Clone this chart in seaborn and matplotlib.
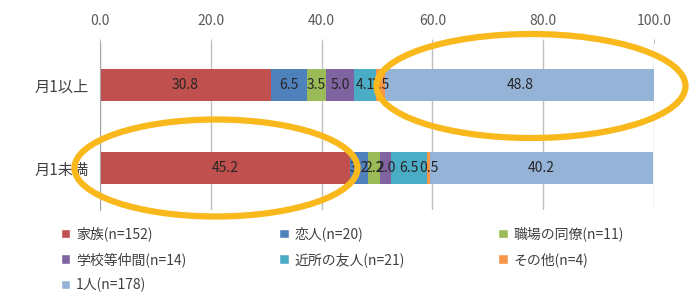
import numpy as np
import pandas as pd
import seaborn as sns
import matplotlib.pyplot as plt
from matplotlib.patches import Ellipse, Patch

# Categories (rows) and series (stack segments), values in percent
rows = ["月1以上", "月1未満"]
series = ["家族(n=152)", "恋人(n=20)", "職場の同僚(n=11)", "学校等仲間(n=14)",
          "近所の友人(n=21)", "その他(n=4)", "1人(n=178)"]
vals_over = [30.8, 6.5, 3.5, 5.0, 4.1, 1.5, 48.8]
vals_under = [45.2, 3.2, 2.2, 2.0, 6.5, 0.5, 40.2]
colors = ["#C0504D", "#4F81BD", "#9BBB59", "#8064A2", "#4BACC6", "#F79646", "#95B3D7"]
xticks = [0, 20, 40, 60, 80, 100]

sns.set_style("white")
plt.rcParams['font.family'] = ['Noto Sans CJK JP', 'DejaVu Sans']

fig = plt.figure(figsize=(6.91, 2.93), dpi=100)
ax = fig.add_axes([100 / 691, 1 - 210 / 293, 554 / 691, 167 / 293])

# Build table of cumulative values, one column per series
vals = np.array([vals_over, vals_under])
cum = np.cumsum(vals, axis=1)
df = pd.DataFrame(cum, columns=series)
df["row"] = rows

# Stack by drawing the cumulative bars from the longest one down
for i in range(len(series) - 1, -1, -1):
    sns.barplot(data=df, x=series[i], y="row", order=rows, orient="h",
                color=colors[i], saturation=1, width=0.38, linewidth=0, ax=ax)

# Segment labels in the middle of each piece
for r in range(len(rows)):
    for i in range(len(series)):
        mid = cum[r, i] - vals[r, i] / 2
        ax.text(mid, r, f"{vals[r, i]:.1f}", ha="center", va="center",
                fontsize=10, color="#262626")

ax.set_xlim(0, 100)
ax.set_ylim(1.5, -0.5)
ax.xaxis.tick_top()
ax.set_xticks(xticks)
ax.set_xticklabels([f"{t:.1f}" for t in xticks], fontsize=10, color="#595959")
ax.tick_params(axis="x", length=3, color="#BFBFBF", pad=8)
ax.set_xlabel("")
ax.set_ylabel("")
ax.tick_params(axis="y", length=0, labelsize=11, labelcolor="#404040", pad=8)
ax.set_yticks([-0.5, 0.5, 1.5], minor=True)
ax.tick_params(axis="y", which="minor", length=4, color="#A6A6A6")
ax.grid(axis="x", color="#BFBFBF", linewidth=1)
ax.set_axisbelow(True)
for s in ["top", "right", "bottom"]:
    ax.spines[s].set_visible(False)
ax.spines["left"].set_color("#A6A6A6")

# Legend, row-major order across three columns
order = [0, 3, 6, 1, 4, 2, 5]
handles = [Patch(facecolor=colors[i], label=series[i]) for i in order]
fig.legend(handles=handles, ncol=3, loc="upper left",
           bbox_to_anchor=(48 / 691, 1 - 214 / 293), frameon=False,
           fontsize=10, handlelength=0.7, handleheight=0.7, handletextpad=0.4,
           columnspacing=6.7, labelspacing=0.78, labelcolor="#404040")

# Highlight ellipses drawn on top of the chart
fig.patches.append(Ellipse((531 / 691, 1 - 86 / 293), 309 / 691, 104 / 293,
                           transform=fig.transFigure, fill=False,
                           edgecolor="#F9B81B", linewidth=4.5))
fig.patches.append(Ellipse((216 / 691, 1 - 168 / 293), 283 / 691, 97 / 293,
                           transform=fig.transFigure, fill=False,
                           edgecolor="#F9B81B", linewidth=4.5))

fig.savefig("out.png", dpi=100)
